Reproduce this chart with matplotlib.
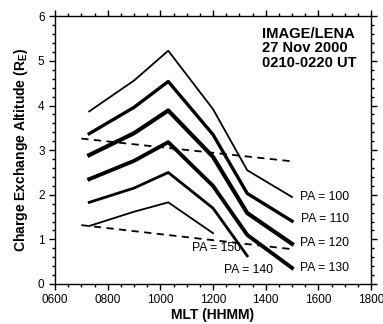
import matplotlib
matplotlib.use("Agg")
import matplotlib.pyplot as plt
from matplotlib.ticker import MultipleLocator, FuncFormatter

plt.rcParams['font.family'] = ['Liberation Sans', 'DejaVu Sans']
plt.rcParams['mathtext.fontset'] = 'custom'
plt.rcParams['mathtext.rm'] = 'Liberation Sans:bold'
plt.rcParams['mathtext.bf'] = 'Liberation Sans:bold'
plt.rcParams['mathtext.it'] = 'Liberation Sans:bold'

# MLT in HHMM
mlt = [730, 900, 1030, 1200, 1330, 1500]
pa100 = [3.87, 4.56, 5.23, 3.92, 2.55, 1.95]
pa110 = [3.37, 3.96, 4.54, 3.35, 2.03, 1.41]
pa120 = [2.89, 3.38, 3.89, 2.85, 1.59, 0.90]
pa130 = [2.35, 2.76, 3.18, 2.20, 1.10, 0.36]
pa140 = [1.83, 2.15, 2.50, 1.70, 0.63]
pa150 = [1.30, 1.62, 1.83, 1.14]

dash_x = [700, 1500]
dash_upper = [3.26, 2.75]
dash_lower = [1.32, 0.78]

fig = plt.figure(figsize=(3.83, 3.24), dpi=100)
ax = fig.add_axes([0.1436, 0.1235, 0.8251, 0.826])

ax.plot(mlt, pa100, color='black', lw=1.3)
ax.plot(mlt, pa110, color='black', lw=2.4)
ax.plot(mlt, pa120, color='black', lw=3.0)
ax.plot(mlt, pa130, color='black', lw=2.8)
ax.plot(mlt[:5], pa140, color='black', lw=2.0)
ax.plot(mlt[:4], pa150, color='black', lw=1.3)
ax.plot(dash_x, dash_upper, color='black', lw=1.3, ls=(0, (4, 3)))
ax.plot(dash_x, dash_lower, color='black', lw=1.3, ls=(0, (4, 3)))

fs = 8.7
ax.text(1530, 1.95, 'PA = 100', fontsize=fs, va='center')
ax.text(1535, 1.45, 'PA = 110', fontsize=fs, va='center')
ax.text(1530, 0.93, 'PA = 120', fontsize=fs, va='center')
ax.text(1530, 0.36, 'PA = 130', fontsize=fs, va='center')
ax.text(1240, 0.32, 'PA = 140', fontsize=fs, va='center')
ax.text(1120, 0.80, 'PA = 150', fontsize=fs, va='center')

ax.text(1385, 5.28, 'IMAGE/LENA\n27 Nov 2000\n0210-0220 UT', fontsize=10.6,
        fontweight='bold', va='center', linespacing=1.08)

ax.set_xlim(600, 1800)
ax.set_ylim(0, 6)
ax.xaxis.set_major_locator(MultipleLocator(200))
ax.xaxis.set_minor_locator(MultipleLocator(50))
ax.yaxis.set_major_locator(MultipleLocator(1))
ax.yaxis.set_minor_locator(MultipleLocator(0.2))
ax.xaxis.set_major_formatter(FuncFormatter(lambda v, p: '%04d' % int(v)))
ax.tick_params(which='both', direction='out', top=True, right=True,
               labelsize=8.5, width=1)
ax.tick_params(which='major', length=4)
ax.tick_params(which='minor', length=2.5)
for s in ax.spines.values():
    s.set_linewidth(1)

ax.set_xlabel('MLT (HHMM)', fontsize=10, fontweight='bold', labelpad=1)
ax.set_ylabel(r'Charge Exchange Altitude (R$_E$)', fontsize=10,
              fontweight='bold', labelpad=6)

fig.savefig('out.png', dpi=100)
